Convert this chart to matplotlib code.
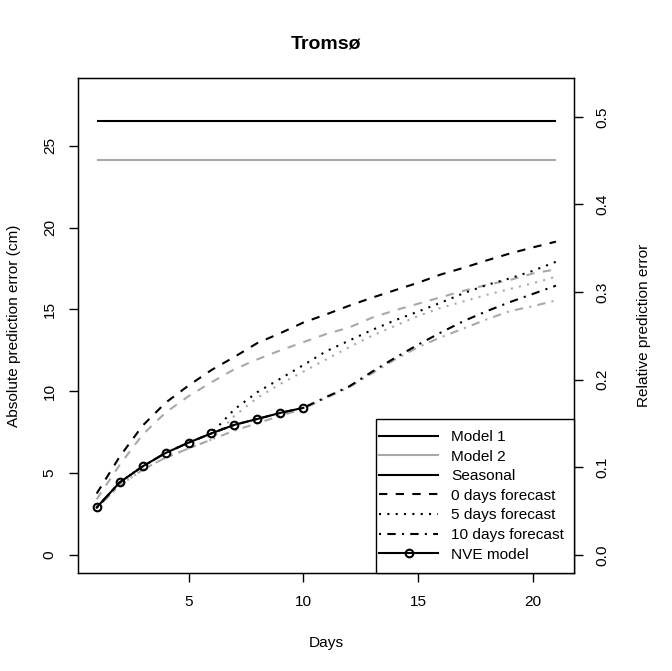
import matplotlib
matplotlib.use("Agg")
import matplotlib.pyplot as plt
from matplotlib.lines import Line2D
from matplotlib.patches import Rectangle

plt.rcParams['font.family'] = ['Liberation Sans', 'DejaVu Sans']

# Days ahead
days = list(range(1, 22))
nve_days = list(range(1, 11))

# Absolute prediction error (cm)
model1_err = 26.5
model2_err = 24.15
nve = [2.90, 4.43, 5.41, 6.23, 6.86, 7.43, 7.95, 8.31, 8.68, 8.99]
m1_fc0 = [3.75, 6.0, 7.9, 9.3, 10.35, 11.3, 12.1, 12.95, 13.55, 14.2, 14.7,
          15.23, 15.72, 16.18, 16.63, 17.14, 17.55, 18.0, 18.42, 18.79, 19.14]
m2_fc0 = [3.4, 5.5, 7.35, 8.7, 9.7, 10.55, 11.35, 11.95, 12.5, 13.0, 13.5,
          13.9, 14.5, 14.95, 15.35, 15.75, 16.15, 16.5, 16.8, 17.2, 17.45]
m1_fc5 = [2.90, 4.43, 5.41, 6.23, 6.86, 7.43, 8.9, 9.95, 10.77, 11.6, 12.45,
          13.1, 13.75, 14.34, 14.87, 15.42, 16.0, 16.5, 16.9, 17.36, 17.91]
m2_fc5 = [2.85, 4.25, 5.2, 5.95, 6.5, 7.05, 8.5, 9.6, 10.45, 11.2, 11.95,
          12.7, 13.4, 14.0, 14.6, 15.1, 15.5, 15.9, 16.25, 16.6, 17.0]
m1_fc10 = [2.90, 4.43, 5.41, 6.23, 6.86, 7.43, 7.95, 8.31, 8.68, 8.99, 9.65,
           10.3, 11.2, 12.05, 12.85, 13.6, 14.3, 14.9, 15.45, 15.95, 16.45]
m2_fc10 = [2.85, 4.25, 5.2, 5.95, 6.5, 7.05, 7.6, 8.05, 8.5, 8.93, 9.6,
           10.25, 11.1, 11.95, 12.7, 13.3, 13.85, 14.4, 14.9, 15.2, 15.55]

legend_labels = ["Model 1", "Model 2", "Seasonal", "0 days forecast",
                 "5 days forecast", "10 days forecast", "NVE model"]

grey = "#A9A9A9"
lw = 1.5
dashed = (0, (4, 4))
dotted = (0, (1, 3))
dotdash = (0, (1, 3, 4, 3))
fs = 11.1

fig = plt.figure(figsize=(6.72, 6.71), dpi=100)
ax = fig.add_axes([78.3 / 672, 1 - 573.3 / 671, 496 / 672, 495 / 671])

ax.hlines(model1_err, days[0], days[-1], color="black", lw=lw)
ax.hlines(model2_err, days[0], days[-1], color=grey, lw=lw)
ax.plot(days, m2_fc0, color=grey, lw=lw, ls=dashed)
ax.plot(days, m2_fc5, color=grey, lw=lw, ls=dotted)
ax.plot(days, m2_fc10, color=grey, lw=lw, ls=dotdash)
ax.plot(days, m1_fc0, color="black", lw=lw, ls=dashed)
ax.plot(days, m1_fc5, color="black", lw=lw, ls=dotted)
ax.plot(days, m1_fc10, color="black", lw=lw, ls=dotdash)
ax.plot(nve_days, nve, color="black", lw=lw, marker="o", ms=5.5,
        mfc="none", mew=1.5)

ax.set_xlim(0.2, 21.8)
ax.set_ylim(-1.12, 29.12)
ax.set_xticks([5, 10, 15, 20])
ax.set_yticks([0, 5, 10, 15, 20, 25])
ax.tick_params(axis="both", direction="out", length=6.5, width=1,
               labelsize=fs, pad=9)
for lbl in ax.get_yticklabels():
    lbl.set_rotation(90)
    lbl.set_va("center")
for sp in ax.spines.values():
    sp.set_linewidth(1)

ax2 = ax.twinx()
ax2.set_ylim(-0.0209, 0.544)
ax2.set_yticks([0.0, 0.1, 0.2, 0.3, 0.4, 0.5])
ax2.set_yticklabels(["0.0", "0.1", "0.2", "0.3", "0.4", "0.5"])
ax2.tick_params(axis="y", direction="out", length=6.5, width=1,
                labelsize=fs, pad=9)
for lbl in ax2.get_yticklabels():
    lbl.set_rotation(90)
    lbl.set_va("center")

fig.text(0.5 * (78.3 + 574.3) / 672, 1 - 48.3 / 671, "Tromsø",
         fontsize=14, fontweight="bold", ha="center", va="baseline")
fig.text(0.5 * (78.3 + 574.3) / 672, 1 - 646.7 / 671, "Days",
         fontsize=fs, ha="center", va="baseline")
fig.text(14.5 / 672, 1 - 325.8 / 671, "Absolute prediction error (cm)",
         fontsize=fs, rotation=90, ha="center", va="center")
fig.text(644 / 672, 1 - 325.8 / 671, "Relative prediction error",
         fontsize=fs, rotation=90, ha="center", va="center")

# legend box like R's legend("bottomright", ...)
ax2.add_patch(Rectangle((0.6002, 0.0), 0.3998, 0.3117, transform=ax2.transAxes,
                        facecolor="white", edgecolor="black", lw=1,
                        zorder=4, clip_on=False))
handles = [
    Line2D([], [], color="black", lw=lw),
    Line2D([], [], color=grey, lw=lw),
    Line2D([], [], color="black", lw=lw),
    Line2D([], [], color="black", lw=lw, ls=dashed),
    Line2D([], [], color="black", lw=lw, ls=dotted),
    Line2D([], [], color="black", lw=lw, ls=dotdash),
    Line2D([], [], color="black", lw=lw, marker="o", ms=5.5, mfc="none",
           mew=1.5),
]
leg = ax2.legend(handles, legend_labels, loc="center left",
                 bbox_to_anchor=(0.6063, 0.1564), fontsize=fs,
                 borderaxespad=0, borderpad=0, frameon=False,
                 handlelength=3.83, handletextpad=0.84, labelspacing=0.36)
leg.set_zorder(5)

fig.savefig("out.png", dpi=100)
